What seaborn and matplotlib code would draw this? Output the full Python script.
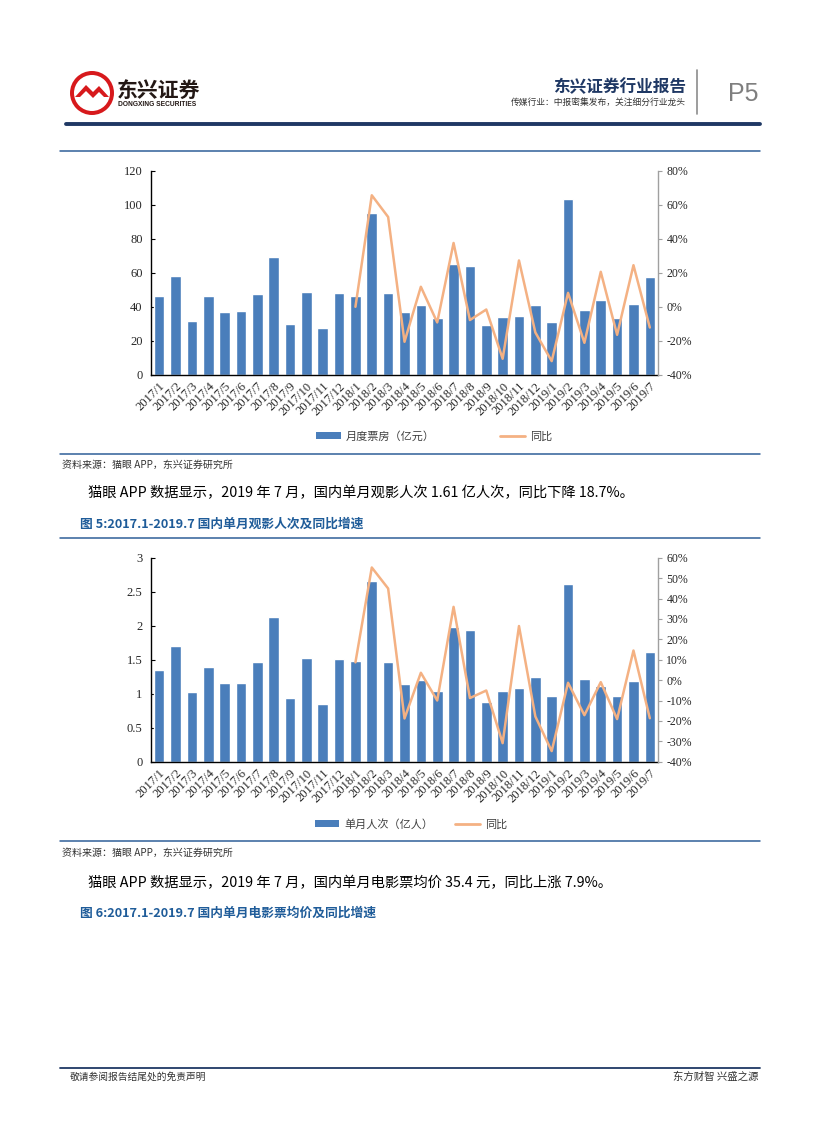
import numpy as np
import pandas as pd
import seaborn as sns
from matplotlib import pyplot as plt
from matplotlib.lines import Line2D
from matplotlib.patches import Patch, Ellipse, Polygon
from matplotlib.ticker import FuncFormatter, MultipleLocator


# months shown on both charts
months = ["2017/1", "2017/2", "2017/3", "2017/4", "2017/5", "2017/6", "2017/7", "2017/8",
          "2017/9", "2017/10", "2017/11", "2017/12",
          "2018/1", "2018/2", "2018/3", "2018/4", "2018/5", "2018/6", "2018/7", "2018/8",
          "2018/9", "2018/10", "2018/11", "2018/12",
          "2019/1", "2019/2", "2019/3", "2019/4", "2019/5", "2019/6", "2019/7"]

# monthly box office (亿元) and yoy (%), yoy starts 2018/1
box_office = [46.5, 58.0, 31.8, 46.5, 36.7, 37.3, 47.6, 69.2, 29.8, 48.8, 27.3, 48.2,
              46.5, 95.5, 48.2, 36.7, 41.0, 33.5, 65.5, 64.1, 29.2, 34.1, 34.7, 40.8,
              31.0, 103.4, 37.9, 43.9, 33.5, 41.4, 57.5]
box_yoy = [0.0, 65.7, 52.9, -20.6, 11.8, -9.2, 37.6, -7.8, -1.6, -30.6, 27.3, -15.1,
           -32.0, 8.2, -21.2, 20.6, -16.5, 24.5, -12.2]

# monthly admissions (亿人) and yoy (%)
admissions = [1.353, 1.706, 1.02, 1.397, 1.157, 1.157, 1.461, 2.132, 0.936, 1.52, 0.843, 1.505,
              1.475, 2.652, 1.461, 1.137, 1.20, 1.044, 1.98, 1.93, 0.882, 1.044, 1.078, 1.245,
              0.97, 2.61, 1.216, 1.12, 0.97, 1.186, 1.61]
adm_yoy = [8.7, 55.2, 44.9, -18.8, 3.6, -10.0, 35.9, -8.8, -5.1, -30.9, 26.5, -17.8,
           -34.8, -1.3, -17.2, -1.0, -19.1, 14.5, -18.7]

BAR = "#4A7EBB"
LINE = "#F4B183"
NAVY = "#1F3864"
BLUE = "#2F5F98"
RED = "#D7191C"
CJK = ["Noto Sans CJK SC", "DejaVu Sans"]
SERIF = ["Liberation Serif", "DejaVu Serif"]

sns.set_style("white")
plt.rcParams["font.family"] = CJK

W, H = 827, 1122
fig = plt.figure(figsize=(W / 100, H / 100), dpi=100)


def fx(x):
    return x / W


def fy(y):
    return 1 - y / H


def hline(y, x0, x1, color, lw):
    fig.add_artist(Line2D([fx(x0), fx(x1)], [fy(y), fy(y)], color=color, lw=lw,
                          transform=fig.transFigure))


def text(x, y, s, **kw):
    fig.text(fx(x), fy(y), s, **kw)


def combo_chart(top, bottom, bars, yoy, ymax, ystep, rmin, rmax, rstep, fmt):
    ax = fig.add_axes([fx(151), fy(bottom), fx(658) - fx(151), fy(top) - fy(bottom)])
    pos = np.arange(len(months))
    df = pd.DataFrame({"month": months, "value": bars, "pos": pos})
    df["yoy"] = [np.nan] * (len(months) - len(yoy)) + yoy

    sns.barplot(data=df, x="month", y="value", color=BAR, saturation=1, width=0.65, ax=ax)
    ax.set_xlim(-0.5, len(months) - 0.5)
    ax.set_ylim(0, ymax)
    ax.yaxis.set_major_locator(MultipleLocator(ystep))
    ax.yaxis.set_major_formatter(FuncFormatter(fmt))
    ax.set_xlabel("")
    ax.set_ylabel("")
    ax.set_xticks(pos)
    ax.set_xticklabels(months, rotation=45, ha="right", va="top", rotation_mode="anchor",
                       fontsize=9, family=SERIF)
    ax.set_xticks(np.arange(-0.5, len(months)), minor=True)
    ax.tick_params(axis="x", which="major", length=0, pad=4)
    ax.tick_params(axis="x", which="minor", length=3, direction="in", color="black", width=0.8)
    ax.tick_params(axis="y", length=3, direction="in", color="black", width=0.8,
                   labelsize=9, pad=6)
    for lab in ax.get_yticklabels():
        lab.set_family(SERIF)
    for s in ["top", "right"]:
        ax.spines[s].set_visible(False)
    for s in ["left", "bottom"]:
        ax.spines[s].set_color("black")
        ax.spines[s].set_linewidth(1.0)

    ax2 = ax.twinx()
    sns.lineplot(data=df.dropna(), x="pos", y="yoy", color=LINE, lw=1.8, ax=ax2)
    ax2.set_xlim(-0.5, len(months) - 0.5)
    ax2.set_ylim(rmin, rmax)
    ax2.yaxis.set_major_locator(MultipleLocator(rstep))
    ax2.yaxis.set_major_formatter(FuncFormatter(lambda v, p: f"{v:.0f}%"))
    ax2.set_ylabel("")
    ax2.tick_params(axis="y", length=3, direction="out", color="#A0A0A0", width=0.8,
                    labelsize=8.5, pad=3)
    for lab in ax2.get_yticklabels():
        lab.set_family(SERIF)
    for s in ["top", "left", "bottom"]:
        ax2.spines[s].set_visible(False)
    ax2.spines["right"].set_color("#A0A0A0")
    ax2.spines["right"].set_linewidth(1.0)
    return ax


def legend(label, cx, cy, spacing):
    handles = [Patch(facecolor=BAR, edgecolor="none"), Line2D([0], [0], color=LINE, lw=2)]
    fig.legend(handles, [label, "同比"], loc="center", bbox_to_anchor=(fx(cx), fy(cy)),
               ncol=2, frameon=False, fontsize=8, handlelength=2.2, handleheight=0.55,
               handletextpad=0.45, columnspacing=spacing, labelcolor="#404040")


def circle(cx, cy, r, color):
    fig.add_artist(Ellipse((fx(cx), fy(cy)), 2 * r / W, 2 * r / H, transform=fig.transFigure,
                           facecolor=color, edgecolor="none"))


# header logo
circle(92, 93, 22, RED)
circle(92, 93, 18, "white")
fig.add_artist(Polygon([(fx(75), fy(97)), (fx(86), fy(85)), (fx(93), fy(92)), (fx(99), fy(86)),
                        (fx(109), fy(97)), (fx(104), fy(97)), (fx(99), fy(92)), (fx(93), fy(98)),
                        (fx(86), fy(91)), (fx(80), fy(97))],
                       transform=fig.transFigure, facecolor=RED, edgecolor="none"))
text(117, 90, "东兴证券", fontsize=15, fontweight="bold", color="#231815", va="center")
text(118, 105, "DONGXING SECURITIES", fontsize=4.8, fontweight="bold", color="#231815",
     va="center", family=["Liberation Sans", "DejaVu Sans"])
text(686, 87, "东兴证券行业报告", fontsize=12, fontweight="bold", color=NAVY, ha="right", va="center")
text(686, 102, "传媒行业：中报密集发布，关注细分行业龙头", fontsize=6.3, color="#333333",
     ha="right", va="center")
fig.add_artist(Line2D([fx(697), fx(697)], [fy(70), fy(114)], color="#8C8C8C", lw=1.2,
                      transform=fig.transFigure))
text(743, 94, "P5", fontsize=18, color="#7F7F7F", ha="center", va="center",
     family=["Liberation Sans", "DejaVu Sans"])
hline(124, 66, 760, NAVY, 2.8)

# chart 1
hline(151, 60, 760, BLUE, 1.1)
combo_chart(171, 374.7, box_office, box_yoy, 120, 20, -40, 80, 20, lambda v, p: f"{v:.0f}")
legend("月度票房（亿元）", 434, 436, 5.9)
hline(454, 60, 760, BLUE, 1.1)
text(62, 465, "资料来源：猫眼 APP，东兴证券研究所", fontsize=7.2, color="#333333", va="center",
     style="italic")
text(88, 493, "猫眼 APP 数据显示，2019 年 7 月，国内单月观影人次 1.61 亿人次，同比下降 18.7%。",
     fontsize=10.3, color="black", va="center")
text(80, 524, "图 5:2017.1-2019.7 国内单月观影人次及同比增速", fontsize=9.2, fontweight="bold",
     color="#1F5C99", va="center")
hline(538, 60, 760, BLUE, 1.1)

# chart 2
combo_chart(557.7, 761.7, admissions, adm_yoy, 3, 0.5, -40, 60, 10, lambda v, p: f"{v:g}")
legend("单月人次（亿人）", 411, 824, 2.0)
hline(841, 60, 760, BLUE, 1.1)
text(62, 853, "资料来源：猫眼 APP，东兴证券研究所", fontsize=7.2, color="#333333", va="center",
     style="italic")
text(88, 883, "猫眼 APP 数据显示，2019 年 7 月，国内单月电影票均价 35.4 元，同比上涨 7.9%。",
     fontsize=10.3, color="black", va="center")
text(80, 913, "图 6:2017.1-2019.7 国内单月电影票均价及同比增速", fontsize=9.2, fontweight="bold",
     color="#1F5C99", va="center")

# footer
hline(1068, 60, 760, NAVY, 1.3)
text(70, 1077, "敬请参阅报告结尾处的免责声明", fontsize=7, color="#333333", va="center")
text(758, 1077, "东方财智 兴盛之源", fontsize=7.5, color="#333333", va="center", ha="right")

fig.savefig("out.png", dpi=100)
plt.close()
